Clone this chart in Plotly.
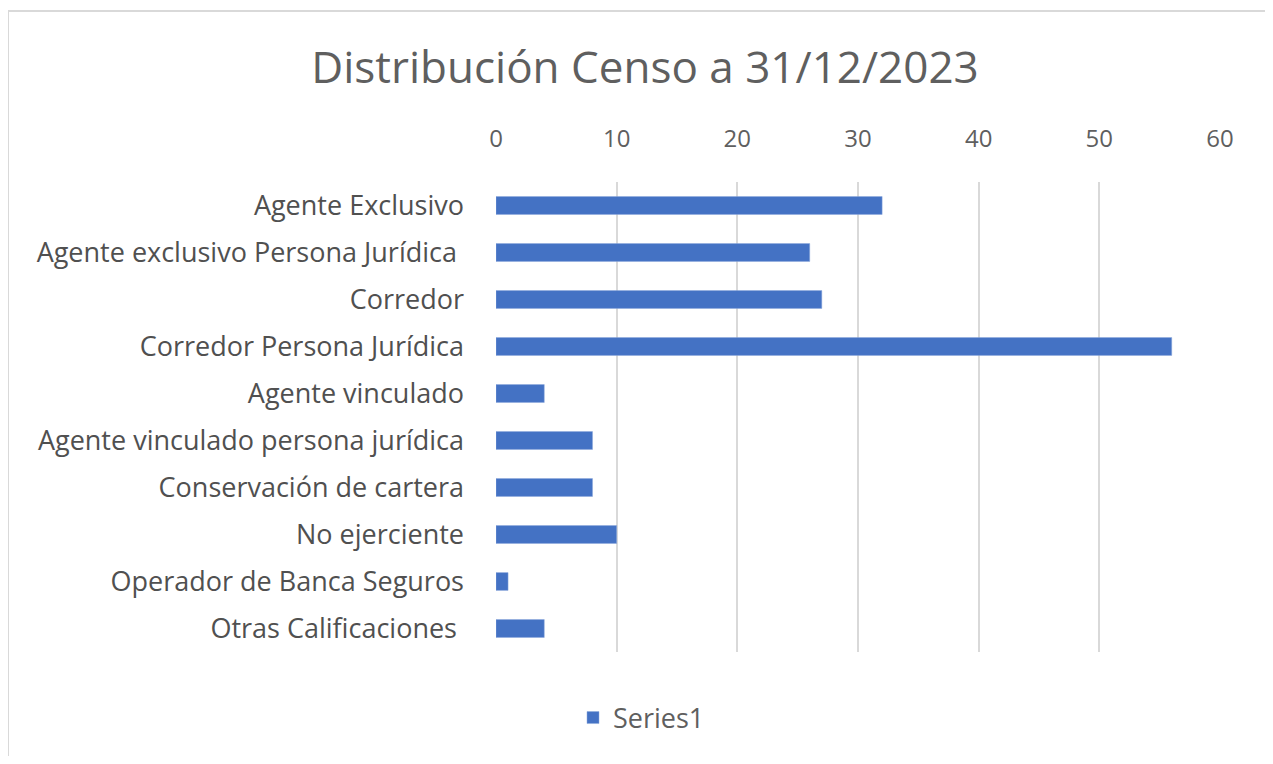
import plotly.graph_objects as go

categories = [
    "Agente Exclusivo",
    "Agente exclusivo Persona Jurídica ",
    "Corredor",
    "Corredor Persona Jurídica",
    "Agente vinculado",
    "Agente vinculado persona jurídica",
    "Conservación de cartera",
    "No ejerciente",
    "Operador de Banca Seguros",
    "Otras Calificaciones ",
]
values = [32, 26, 27, 56, 4, 8, 8, 10, 1, 4]
series_name = "Series1"
tick_vals = [0, 10, 20, 30, 40, 50, 60]

# figure is placed at (8, 8) by the page's body margin
W, H = 1257, 748
L, R, T, B = 488, 1212, 174, 644

fig = go.Figure()
fig.add_trace(go.Bar(
    y=categories, x=values, orientation="h", name=series_name,
    marker=dict(color="#4472C4", line=dict(color="#8FAADC", width=0.5)),
    width=0.38, showlegend=True,
))

def px_to_paper_x(px):
    return (px - L) / (R - L)

def px_to_paper_y(py):
    return (B - py) / (B - T)

fig.add_shape(type="rect", xref="paper", yref="paper",
              x0=px_to_paper_x(0), x1=px_to_paper_x(1300),
              y0=px_to_paper_y(800), y1=px_to_paper_y(3),
              line=dict(color="#D9D9D9", width=2), layer="below")

fig.update_layout(
    width=W, height=H,
    margin=dict(l=L, r=W - R, t=T, b=H - B),
    paper_bgcolor="white", plot_bgcolor="white",
    font=dict(family="Open Sans, Noto Sans, sans-serif", color="#595959"),
    title=dict(text="Distribución Censo a 31/12/2023", x=637 / W, xanchor="center",
               y=1 - 60 / H, yanchor="middle",
               font=dict(size=44, color="#5f5f5f")),
    xaxis=dict(range=[0, 60], side="top", tickvals=tick_vals,
               showgrid=True, gridcolor="#D9D9D9", gridwidth=1.5,
               zeroline=False, showline=False, ticks="",
               ticklabelstandoff=29,
               tickfont=dict(size=24, color="#5f5f5f")),
    yaxis=dict(autorange="reversed", showgrid=False, zeroline=False,
               showline=False, ticks="", ticklabelstandoff=31,
               tickfont=dict(size=27, color="#505050")),
    legend=dict(orientation="h", x=px_to_paper_x(565), y=px_to_paper_y(710),
                xanchor="left", yanchor="middle",
                font=dict(size=27, color="#5f5f5f")),
    bargap=0.62,
)

fig.write_html("out.html")
